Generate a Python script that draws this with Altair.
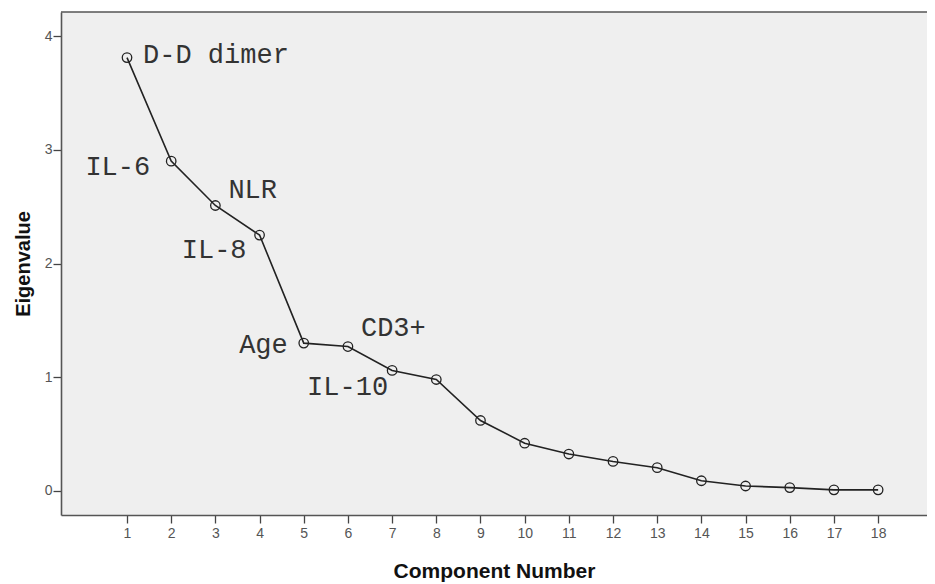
import altair as alt
import pandas as pd

# ---- data ----
components = list(range(1, 19))
eigenvalues = [3.81, 2.90, 2.51, 2.25, 1.30, 1.27, 1.06, 0.98, 0.62, 0.42,
               0.325, 0.26, 0.205, 0.09, 0.044, 0.03, 0.01, 0.01]
label_components = [1, 2, 3, 4, 5, 6, 7]
label_texts = ["D-D dimer", "IL-6", "NLR", "IL-8", "Age", "CD3+", "IL-10"]
x_ticks = list(range(1, 19))
y_ticks = [0, 1, 2, 3, 4]

df = pd.DataFrame({"component": components, "eigenvalue": eigenvalues})

# label placement (style only): align, dx, dy relative to the point
label_style = {
    "D-D dimer": ("left", 16, 5),
    "IL-6": ("right", -21, 14),
    "NLR": ("left", 13, -7),
    "IL-8": ("right", -13, 23),
    "Age": ("right", -16, 10),
    "CD3+": ("left", 13, -11),
    "IL-10": ("right", -4, 25),
}

W, H = 866, 503
FRAME = "#555"
xscale = alt.Scale(domain=[-0.494, 19.106], nice=False, zero=False)
yscale = alt.Scale(domain=[-0.211, 4.211], nice=False, zero=False)

x_enc = alt.X(
    "component:Q", scale=xscale,
    axis=alt.Axis(values=x_ticks, title="Component Number", grid=False,
                  domain=True, domainColor=FRAME, domainWidth=1.6,
                  tickSize=8, tickColor="#444", tickWidth=1.3,
                  labelFont="Liberation Sans", labelFontSize=14,
                  labelColor="#555", labelPadding=3,
                  titleFont="Liberation Sans", titleFontSize=21,
                  titleFontWeight="bold", titleColor="#111",
                  titlePadding=20, format="d"))
y_enc = alt.Y(
    "eigenvalue:Q", scale=yscale,
    axis=alt.Axis(values=y_ticks, title="Eigenvalue", grid=False,
                  domain=True, domainColor=FRAME, domainWidth=1.6,
                  tickSize=8, tickColor="#444", tickWidth=1.3,
                  labelFont="Liberation Sans", labelFontSize=14,
                  labelColor="#555", labelPadding=1,
                  titleFont="Liberation Sans", titleFontSize=20,
                  titleFontWeight="bold", titleColor="#111",
                  titlePadding=11, format="d"))

base = alt.Chart(df)
line = base.mark_line(color="#222", strokeWidth=1.6).encode(x=x_enc, y=y_enc)
points = base.mark_point(shape="circle", filled=False, size=90,
                         color="#222", strokeWidth=1.3, opacity=1).encode(
    x="component:Q", y="eigenvalue:Q")

# top edge of the frame (the right edge lies outside the picture)
top_edge = alt.Chart(pd.DataFrame({"k": [0]})).mark_rule(
    color=FRAME, strokeWidth=1.6).encode(
    x=alt.value(0), x2=alt.value(W), y=alt.value(0))

layers = [top_edge, line, points]
for comp, txt in zip(label_components, label_texts):
    align, dx, dy = label_style[txt]
    sub = pd.DataFrame({"component": [comp],
                        "eigenvalue": [eigenvalues[comp - 1]],
                        "label": [txt]})
    layers.append(
        alt.Chart(sub).mark_text(font="Liberation Mono", fontSize=27,
                                 color="#333", align=align,
                                 baseline="alphabetic", dx=dx, dy=dy).encode(
            x="component:Q", y="eigenvalue:Q", text="label:N"))

chart = alt.layer(*layers).properties(
    width=W, height=H,
    autosize=alt.AutoSizeParams(type="none"),
    padding={"left": 53, "top": 4, "right": 0, "bottom": 69},
    background="white",
).configure_view(stroke=None, fill="#efefef")

chart.save("out.html", embed_options={"renderer": "svg", "actions": False})
